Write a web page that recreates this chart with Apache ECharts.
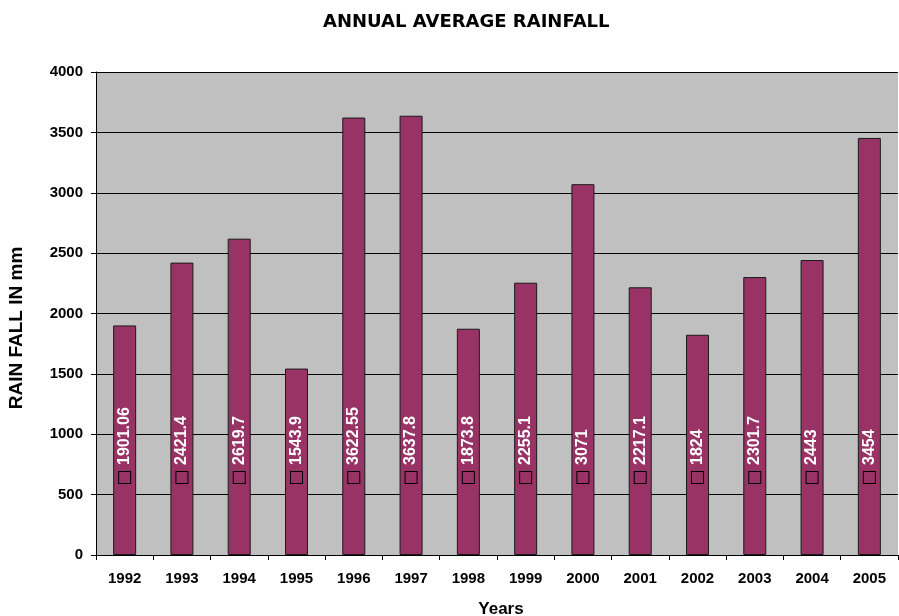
<!DOCTYPE html>
<html><head><meta charset="utf-8">
<script src="https://cdn.jsdelivr.net/npm/echarts@6/dist/echarts.min.js"></script>
<style>html,body{margin:0;padding:0;background:#fff}#c{width:899px;height:616px}</style>
</head><body><div id="c"></div>
<script>
const years = ['1992','1993','1994','1995','1996','1997','1998','1999','2000','2001','2002','2003','2004','2005'];
const rainfall = [1901.06, 2421.4, 2619.7, 1543.9, 3622.55, 3637.8, 1873.8, 2255.1, 3071, 2217.1, 1824, 2301.7, 2443, 3454];
const yTicks = {min: 0, max: 4000, interval: 500};

const chart = echarts.init(document.getElementById('c'));
const F = 'Liberation Sans, Arial, sans-serif';
chart.setOption({
  animation: false,
  title: {
    text: 'ANNUAL AVERAGE RAINFALL', left: 318, top: 8,
    textStyle: {fontFamily: 'DejaVu Sans, sans-serif', fontSize: 18, fontWeight: 'bold', color: '#000'}
  },
  grid: {left: 96, right: 1, top: 72, bottom: 61, show: true, backgroundColor: '#C0C0C0', borderWidth: 0,
         containLabel: false, outerBoundsMode: 'none'},
  xAxis: {
    type: 'category', data: years,
    name: 'Years', nameLocation: 'middle', nameGap: 46,
    nameTextStyle: {fontFamily: F, fontSize: 17, fontWeight: 'bold', color: '#000', padding: [0, 0, 0, 8]},
    axisLine: {lineStyle: {color: '#000', width: 1}},
    axisTick: {show: true, length: 5, lineStyle: {color: '#000'}},
    axisLabel: {fontFamily: F, fontSize: 15, fontWeight: 'bold', color: '#000', margin: 16},
    splitLine: {show: false}
  },
  yAxis: {
    type: 'value', min: yTicks.min, max: yTicks.max, interval: yTicks.interval,
    name: 'RAIN FALL IN mm', nameLocation: 'middle', nameGap: 70,
    nameTextStyle: {fontFamily: F, fontSize: 19, fontWeight: 'bold', color: '#000', padding: [0, 29, 0, 0]},
    axisLine: {show: true, lineStyle: {color: '#000', width: 1}},
    axisTick: {show: true, length: 5, lineStyle: {color: '#000'}},
    axisLabel: {fontFamily: F, fontSize: 15, fontWeight: 'bold', color: '#000', margin: 13, formatter: v => String(v)},
    splitLine: {show: true, lineStyle: {color: '#000', width: 1}}
  },
  series: [{
    type: 'bar', data: rainfall, barWidth: 23,
    itemStyle: {color: '#993366', borderColor: '#1a1a1a', borderWidth: 1},
    label: {
      show: true, position: 'insideBottom', distance: 72, rotate: 90,
      align: 'left', verticalAlign: 'middle',
      formatter: p => '{box|}{gap|}{val|' + p.value + '}',
      rich: {
        box: {width: 11, height: 11, borderColor: '#000', borderWidth: 1, backgroundColor: '#993366'},
        gap: {width: 7},
        val: {fontFamily: F, fontSize: 16, fontWeight: 'bold', color: '#fff'}
      }
    }
  }]
});
</script></body></html>
